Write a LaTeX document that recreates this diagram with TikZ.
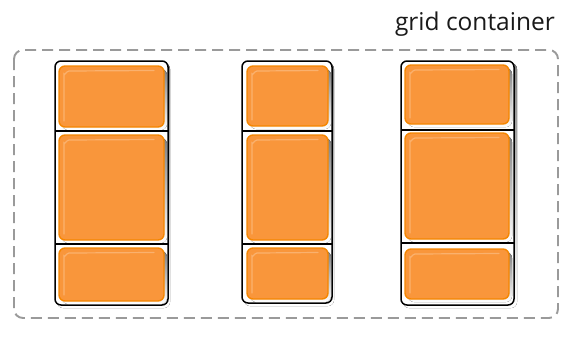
\documentclass[tikz,border=0pt]{standalone}
\usepackage{fontspec}
\setmainfont{Open Sans}
\definecolor{itemfill}{HTML}{F9963B}
\definecolor{itemedge}{HTML}{F58600}
\definecolor{itemhi}{HTML}{FBB574}
\definecolor{shade}{HTML}{D4D4D4}
\definecolor{dashgray}{HTML}{9A9A9A}
\begin{document}
\begin{tikzpicture}[x=1pt,y=-1pt,
  colbox/.style={draw=black,line width=1.5pt,rounded corners=6pt,fill=white},
  itembox/.style={draw=itemedge,line width=1.4pt,fill=itemfill,rounded corners=6pt},
  divline/.style={draw=black,line width=1.3pt},
  contbox/.style={draw=dashgray,line width=1.9pt,dash pattern=on 11pt off 6pt,rounded corners=9pt}
]
\useasboundingbox (0,0) rectangle (575,338);
% container
\draw[contbox] (14,50) rectangle (558,318);
\node[anchor=base east,inner sep=0pt,font=\fontsize{24.5}{28}\selectfont,text=black!90] (lbl) at (555,30) {grid container};
% helper macro for items
\newcommand{\gitem}[5]{%
  \fill[shade,rounded corners=6pt] (#2+3,#3+3) rectangle (#4+3,#5+3);
  \draw[itembox] (#2,#3) rectangle (#4,#5);
  \draw[itemhi,line width=1.2pt,line cap=round,opacity=0.9] (#2+5,#5-6) -- (#2+5,#3+8) to[out=-90,in=180] (#2+10,#3+5) -- (#4-10,#3+4.5);
  \node[inner sep=0pt] (#1) at ({(#2+#4)/2},{(#3+#5)/2}) {};
}
% column 1
\fill[shade,rounded corners=6pt] (57,63) rectangle (170,308);
\draw[colbox] (55,61) rectangle (168,305);
\node[inner sep=0pt] (c1) at (111.5,183) {};
\gitem{a1}{59}{66}{164}{127}
\gitem{a2}{59}{135}{164}{240}
\gitem{a3}{59}{248}{164}{301}
\draw[divline] (55,131) -- (168,131);
\draw[divline] (55,244) -- (168,244);
% column 2
\fill[shade,rounded corners=6pt] (244,63) rectangle (334,306);
\draw[colbox] (242,61) rectangle (332,303);
\node[inner sep=0pt] (c2) at (287,182) {};
\gitem{b1}{247}{66}{328}{126}
\gitem{b2}{247}{135}{328}{240}
\gitem{b3}{247}{248}{328}{299}
\draw[divline] (242,131) -- (332,131);
\draw[divline] (242,244) -- (332,244);
% column 3
\fill[shade,rounded corners=6pt] (403,63) rectangle (517,308);
\draw[colbox] (401,61) rectangle (514,305);
\node[inner sep=0pt] (c3) at (457.5,183) {};
\gitem{d1}{405}{65}{509}{124}
\gitem{d2}{405}{133}{509}{239}
\gitem{d3}{405}{249}{509}{299}
\draw[divline] (401,130) -- (514,130);
\draw[divline] (401,243) -- (514,243);
\end{tikzpicture}
\end{document}
